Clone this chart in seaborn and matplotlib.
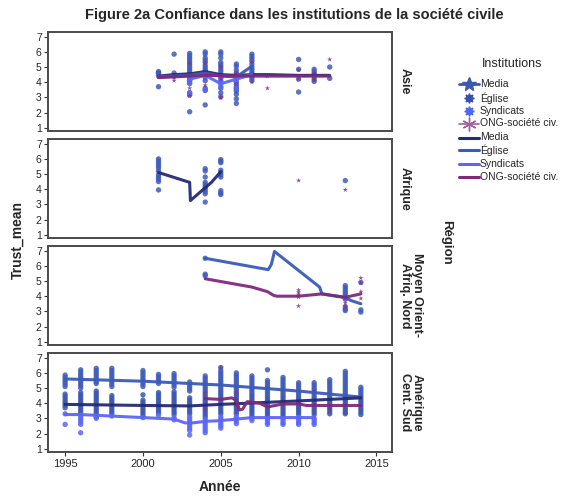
import matplotlib
matplotlib.use("Agg")
import matplotlib.pyplot as plt
from matplotlib.lines import Line2D
import seaborn as sns
import pandas as pd

# ---------------- data ----------------
regions = ["Asie", "Afrique", "Moyen Orient-\nAfriq. Nord", "Amérique\nCent. Sud"]
institutions = ["Media", "Église", "Syndicats", "ONG-société civ."]
years_ticks = [1995, 2000, 2005, 2010, 2015]
y_ticks = [1, 2, 3, 4, 5, 6, 7]

# scatter points: {year: [values]}
asie_media = {2001: [4.6], 2004: [4.7], 2007: [4.5]}
asie_eglise = {
    2001: [4.7, 4.6, 4.4, 3.7],
    2002: [5.85, 4.6, 4.4],
    2003: [5.9, 5.75, 5.6, 5.45, 5.3, 5.15, 5.0, 4.85, 4.7, 4.55, 4.4, 4.25, 4.1, 3.95, 3.3, 3.15, 2.05],
    2004: [6.0, 5.85, 5.6, 5.45, 5.3, 5.1, 4.95, 4.8, 4.6, 4.45, 4.3, 4.1, 3.6, 3.45, 2.5],
    2005: [6.0, 5.85, 5.6, 5.3, 5.15, 5.0, 4.85, 4.7, 4.5, 4.3, 4.1, 3.9, 3.6, 3.3, 3.05],
    2006: [5.2, 5.05, 4.8, 4.6, 4.4, 4.2, 4.0, 3.85, 3.7, 3.55, 3.4, 3.2, 2.9, 2.6],
    2007: [5.85, 5.7, 5.55, 5.4, 5.2, 5.0, 4.85, 4.7, 4.55, 4.4, 4.25, 4.1],
    2010: [5.5, 4.85, 4.2, 3.35],
    2011: [4.85, 4.7, 4.55, 4.4, 4.2, 4.05],
    2012: [5.0, 4.25],
}
asie_syndicats = {
    2003: [4.3, 4.1, 3.9, 3.3, 3.2],
    2004: [4.6, 4.4, 3.5],
    2005: [4.3, 4.0, 3.7],
    2006: [4.3, 4.0, 3.6],
}
asie_ong = {
    2002: [4.1, 4.3],
    2003: [5.25, 4.5, 3.6, 3.1],
    2004: [5.25, 4.5, 3.8],
    2005: [5.0, 4.4, 4.2, 3.0, 2.95],
    2006: [4.6, 3.9],
    2007: [5.3, 4.5, 4.0],
    2008: [4.4, 3.6],
    2010: [4.8, 4.2],
    2011: [4.6, 4.2, 4.1],
    2012: [5.5],
}

afrique_media = {}
afrique_eglise = {
    2001: [6.0, 5.85, 5.7, 5.55, 5.4, 5.2, 4.95, 4.8, 4.65, 4.5, 3.95],
    2004: [5.35, 5.2, 4.8, 4.45, 4.3, 4.15, 4.0, 3.85, 3.7, 3.15],
    2005: [5.95, 5.85, 5.75, 5.25, 5.1, 4.95, 4.8, 3.9, 3.75, 3.65],
    2013: [4.57],
}
afrique_syndicats = {}
afrique_ong = {2010: [4.57], 2013: [3.96]}

mo_media = {}
mo_eglise = {
    2004: [6.5, 5.45, 5.35],
    2013: [4.7, 4.55, 4.4, 4.25, 4.1, 3.95, 3.8, 3.3, 3.15, 3.05],
    2014: [4.9, 3.1, 2.95],
}
mo_syndicats = {}
mo_ong = {
    2010: [4.4, 4.25, 4.1, 3.95, 3.35],
    2013: [3.85, 3.55, 3.35],
    2014: [5.2, 4.9, 4.3, 3.85],
}

am_eglise = {
    1995: [5.85, 5.7, 5.55, 5.4, 5.25, 5.1],
    1996: [6.2, 6.05, 5.9, 5.75, 5.6, 5.45, 5.3, 5.15, 5.0],
    1997: [6.3, 6.15, 6.0, 5.85, 5.7, 5.55, 5.4, 5.3],
    1998: [6.3, 6.15, 6.0, 5.85, 5.7, 5.55, 5.4, 5.25, 5.1],
    2000: [6.15, 6.0, 5.85, 5.7, 5.55, 5.4, 5.25, 5.1],
    2001: [5.9, 5.75, 5.6, 5.45, 5.3],
    2002: [5.95, 5.8, 5.65, 5.5, 5.35, 5.2, 5.05],
    2003: [5.4, 5.25, 5.1, 4.95, 4.8],
    2004: [5.8, 5.65, 5.5, 5.35, 5.2, 5.05, 4.9, 4.75],
    2005: [6.35, 6.15, 6.0, 5.85, 5.7, 5.55, 5.4, 5.25, 5.1, 4.95],
    2006: [6.0, 5.85, 5.7, 5.55, 5.4, 5.25, 5.1, 4.95, 4.8],
    2007: [5.8, 5.65, 5.5, 5.35, 5.2, 5.05, 4.9, 4.75],
    2008: [6.2, 5.5, 5.35, 5.2, 5.05, 4.9, 4.75, 4.6],
    2009: [5.7, 5.55, 5.4, 5.25, 5.1, 4.95, 4.8, 4.65],
    2010: [5.35, 5.2, 5.05, 4.9, 4.75, 4.6],
    2011: [5.35, 5.2, 5.05, 4.9, 4.75, 4.6, 4.45],
    2012: [5.55, 5.4, 5.25, 5.1, 4.95, 4.8, 4.65, 4.5],
    2013: [6.1, 5.95, 5.8, 5.65, 5.5, 5.35, 5.2, 5.05, 4.9, 4.75, 4.6],
    2014: [5.05, 4.9, 4.75, 4.6, 4.45],
}
am_media = {
    1995: [4.6, 4.45, 4.3, 4.15, 4.0, 3.85, 3.7],
    1996: [4.7, 4.55, 4.4, 4.25, 4.1, 3.95, 3.8, 3.65, 3.5, 3.35],
    1997: [4.8, 4.65, 4.5, 4.35, 4.2, 4.05, 3.9, 3.75, 3.6, 3.45, 3.3, 3.1],
    1998: [4.5, 4.35, 4.2, 4.05, 3.9, 3.75, 3.6, 3.45, 3.3],
    2000: [4.55, 4.2, 4.05, 3.9, 3.75, 3.6, 3.45, 3.3, 3.15],
    2001: [4.7, 4.55, 4.4, 4.25, 4.1, 3.95, 3.8, 3.65, 3.5, 3.35],
    2002: [4.75, 4.6, 4.45, 4.3, 4.15, 4.0, 3.85, 3.7, 3.55, 3.4, 3.25],
    2003: [4.35, 4.2, 4.05, 3.9, 3.75, 3.6, 3.45, 3.3],
    2004: [4.6, 4.45, 4.3, 4.15, 4.0, 3.85, 3.7, 3.55, 3.4, 3.25, 3.1],
    2005: [4.8, 4.65, 4.5, 4.35, 4.2, 4.05, 3.9, 3.75, 3.6, 3.45, 3.3],
    2006: [4.65, 4.5, 4.35, 4.2, 4.05, 3.9, 3.75, 3.6, 3.45, 3.3],
    2007: [4.6, 4.45, 4.3, 4.15, 4.0, 3.85, 3.7, 3.55, 3.4, 3.25, 3.1],
    2008: [4.45, 4.3, 4.15, 4.0, 3.85, 3.7, 3.55, 3.4, 3.25, 3.1],
    2009: [4.5, 4.35, 4.2, 4.05, 3.9, 3.75, 3.6, 3.45, 3.3, 3.15],
    2010: [4.45, 4.3, 4.15, 4.0, 3.85, 3.7, 3.55, 3.4, 3.25],
    2011: [4.3, 4.15, 4.0, 3.85, 3.7, 3.55, 3.4, 3.25],
    2012: [4.35, 4.2, 4.05, 3.9, 3.75, 3.6, 3.45, 3.3],
    2013: [4.45, 4.3, 4.15, 4.0, 3.85, 3.7, 3.55, 3.4, 3.3],
    2014: [4.3, 4.15, 4.0, 3.85, 3.7, 3.55, 3.4, 3.25],
}
am_syndicats = {
    1995: [3.3, 2.6],
    1996: [3.2, 3.05, 2.9, 2.75, 2.6, 2.05],
    1997: [3.15, 3.0],
    1998: [3.15],
    2000: [3.05],
    2001: [3.2],
    2002: [3.05, 2.9],
    2003: [3.1, 2.95, 2.8, 2.65, 2.5, 2.35, 2.2, 1.9],
    2004: [2.95, 2.8, 2.65, 2.5, 2.35, 2.2, 2.05],
    2005: [3.1, 2.95, 2.8, 2.65, 2.5, 2.35],
    2006: [3.1, 2.95, 2.8, 2.65],
    2007: [3.0, 2.85],
    2008: [3.0, 2.85, 2.7, 2.6],
    2009: [3.0, 2.85, 2.7, 2.6],
    2010: [3.0, 2.85, 2.7, 2.6],
    2011: [3.0, 2.85, 2.7, 2.6],
}
am_ong = {2004: [4.7, 3.6], 2005: [6.35], 2006: [4.7, 3.7], 2008: [3.8], 2011: [4.8], 2012: [3.6]}

# fitted lines: (years, values)
asie_lines = {
    "Media": ([2001, 2002, 2003, 2004, 2005, 2006, 2007, 2008, 2010, 2012],
              [4.4, 4.5, 4.55, 4.7, 4.5, 4.45, 4.5, 4.5, 4.45, 4.45]),
    "Église": ([2001, 2003, 2004, 2005, 2006, 2007], [4.35, 4.45, 4.6, 4.4, 4.35, 5.05]),
    "Syndicats": ([2003, 2004, 2005, 2006, 2007], [4.2, 4.45, 3.9, 4.2, 4.5]),
    "ONG-société civ.": ([2001, 2004, 2007, 2012], [4.3, 4.45, 4.4, 4.4]),
}
afrique_lines = {
    "Media": ([2001, 2003, 2003.05, 2004.4, 2005], [5.1, 4.45, 3.25, 4.45, 5.15]),
}
mo_lines = {
    "Église": ([2004, 2008.05, 2008.25, 2008.45, 2011.35, 2011.5, 2013, 2013.4, 2014],
               [6.5, 5.75, 6.1, 6.95, 4.6, 4.15, 3.9, 3.7, 3.5]),
    "ONG-société civ.": ([2004, 2007, 2008, 2008.4, 2008.6, 2010, 2011.5, 2013, 2014],
                         [5.15, 4.6, 4.3, 4.05, 4.0, 4.0, 4.15, 3.93, 4.15]),
}
am_lines = {
    "Église": ([1995, 2000, 2005, 2010, 2014], [5.6, 5.45, 5.2, 4.8, 4.4]),
    "Media": ([1995, 2000, 2003, 2005, 2010, 2014], [3.92, 3.85, 3.82, 3.92, 4.15, 4.35]),
    "Syndicats": ([1995, 1996, 2000, 2002, 2002.7, 2003.2, 2004, 2005, 2007, 2011],
                  [3.25, 3.25, 3.05, 2.95, 2.7, 2.7, 2.8, 2.85, 3.05, 3.05]),
    "ONG-société civ.": ([2004, 2005, 2005.7, 2006, 2006.2, 2006.4, 2006.7, 2007.5, 2008, 2009, 2010, 2010.5, 2014],
                         [4.3, 4.25, 4.35, 4.2, 3.55, 3.6, 4.1, 4.0, 3.75, 3.95, 3.95, 3.85, 3.85]),
}

points_by_region = [
    [asie_media, asie_eglise, asie_syndicats, asie_ong],
    [afrique_media, afrique_eglise, afrique_syndicats, afrique_ong],
    [mo_media, mo_eglise, mo_syndicats, mo_ong],
    [am_media, am_eglise, am_syndicats, am_ong],
]
lines_by_region = [asie_lines, afrique_lines, mo_lines, am_lines]

# ---------------- build frames ----------------
prow, lrow = [], []
for reg, dicts, ldict in zip(regions, points_by_region, lines_by_region):
    for inst, d in zip(institutions, dicts):
        for yr, vals in d.items():
            for v in vals:
                prow.append((reg, inst, yr, v))
    for inst, (xs, vs) in ldict.items():
        for x, v in zip(xs, vs):
            lrow.append((reg, inst, x, v))
pts = pd.DataFrame(prow, columns=["Region", "Institution", "Year", "Value"])
lns = pd.DataFrame(lrow, columns=["Region", "Institution", "Year", "Value"])

pt_colors = {"Media": "#3c57b0", "Église": "#3f5cb8", "Syndicats": "#5a68f2", "ONG-société civ.": "#8a2f86"}
ln_colors = {"Media": "#262a72", "Église": "#3a5cb8", "Syndicats": "#5d66f5", "ONG-société civ.": "#7d2a7c"}
pt_markers = {"Media": "o", "Église": "o", "Syndicats": "o", "ONG-société civ.": "*"}

sns.set_style("white")
plt.rcParams["font.family"] = ["Liberation Sans", "DejaVu Sans"]

W, H = 566, 500
fig = plt.figure(figsize=(W / 100, H / 100), dpi=100)

tops = [32, 139, 246, 353]
ph = 99
axes = []
for i, (reg, top) in enumerate(zip(regions, tops)):
    ax = fig.add_axes([48 / W, 1 - (top + ph) / H, 344 / W, ph / H])
    axes.append(ax)
    sub = pts[pts.Region == reg]
    sns.scatterplot(data=sub, x="Year", y="Value", hue="Institution", style="Institution",
                    palette=pt_colors, markers=pt_markers, s=15, linewidth=0, alpha=0.85,
                    legend=False, ax=ax, zorder=2)
    lsub = lns[lns.Region == reg]
    sns.lineplot(data=lsub, x="Year", y="Value", hue="Institution", palette=ln_colors,
                 estimator=None, sort=False, lw=2.2, alpha=0.95, legend=False, ax=ax, zorder=3)
    ax.set_xlim(1993.9, 2016.0)
    ax.set_ylim(0.78, 7.31)
    ax.set_yticks(y_ticks)
    ax.set_yticklabels([str(t) for t in y_ticks], fontsize=7.5)
    ax.set_xticks(years_ticks)
    ax.set_xlabel("")
    ax.set_ylabel("")
    for sp in ax.spines.values():
        sp.set_color("#4a4a4a")
        sp.set_linewidth(1.4)
    ax.tick_params(axis="y", direction="out", length=3, width=0.8, color="#333333", pad=1.5, left=True)
    if i < 3:
        ax.tick_params(axis="x", bottom=False, labelbottom=False)
    else:
        ax.set_xticklabels([str(t) for t in years_ticks], fontsize=8)
        ax.tick_params(axis="x", direction="out", length=3, width=0.8, color="#333333", pad=2, bottom=True)
    # strip label
    xc = 405 if "\n" not in reg else 411
    fig.text(xc / W, 1 - (top + ph / 2) / H, reg, rotation=-90, ha="center", va="center",
             fontsize=9, fontweight="bold", linespacing=0.95)

fig.text(294 / W, 1 - 15 / H, "Figure 2a Confiance dans les institutions de la société civile",
         ha="center", va="center", fontsize=10.5, fontweight="bold")
fig.text(18 / W, 1 - 240 / H, "Trust_mean", rotation=90, ha="center", va="center",
         fontsize=10, fontweight="bold")
fig.text(220 / W, 1 - 487 / H, "Année", ha="center", va="center", fontsize=10, fontweight="bold")
fig.text(446 / W, 1 - 242 / H, "Région", rotation=-90, ha="center", va="center",
         fontsize=9.5, fontweight="bold")

# legend (manual)
fig.text(512 / W, 1 - 64 / H, "Institutions", ha="center", va="center", fontsize=9)
hx0, hx1, tx = 459, 479, 480
leg_items = [
    ("Media", "marker", "*", "#3c57b0", 10, True),
    ("Église", "marker", (8, 1, 0), "#3450a8", 7, False),
    ("Syndicats", "marker", (8, 1, 0), "#5068f0", 7, False),
    ("ONG-société civ.", "marker", (6, 2, 0), "#a060a0", 10, True),
    ("Media", "line", None, ln_colors["Media"], 0, True),
    ("Église", "line", None, ln_colors["Église"], 0, True),
    ("Syndicats", "line", None, ln_colors["Syndicats"], 0, True),
    ("ONG-société civ.", "line", None, ln_colors["ONG-société civ."], 0, True),
]
ys = [84, 98, 111, 123.5, 137.5, 150, 164, 177]
for (lab, kind, mk, col, ms, withline), yy in zip(leg_items, ys):
    yf = 1 - yy / H
    if kind == "marker":
        if withline:
            fig.add_artist(Line2D([hx0 / W, hx1 / W], [yf, yf], color=col, lw=1.2 if mk != "*" else 2,
                                  transform=fig.transFigure))
        fig.add_artist(Line2D([(hx0 + hx1) / 2 / W], [yf], marker=mk, markersize=ms, color=col, lw=0,
                              markeredgewidth=1.0, transform=fig.transFigure))
    else:
        fig.add_artist(Line2D([hx0 / W, hx1 / W], [yf, yf], color=col, lw=2.2,
                              transform=fig.transFigure))
    fig.text(tx / W, yf, lab, ha="left", va="center", fontsize=7.5)

fig.savefig("out.png", dpi=100)
